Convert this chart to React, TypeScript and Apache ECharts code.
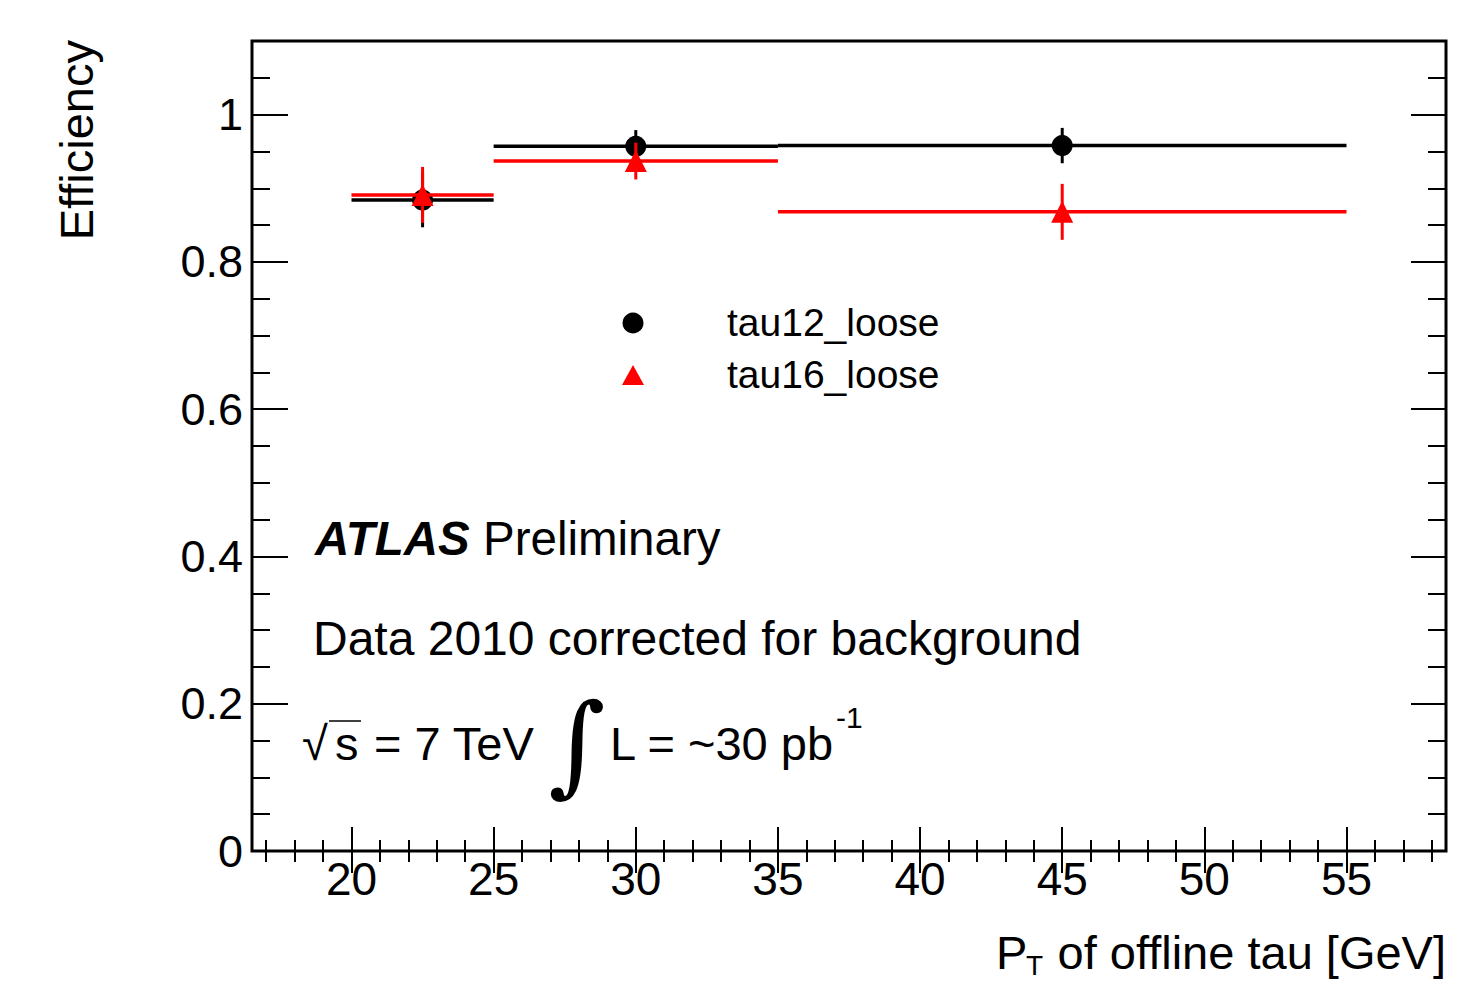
import React, { useEffect, useRef } from "react";
import * as echarts from "echarts";

// ---- data ----
const binLow = [20, 25, 35];
const binHigh = [25, 35, 55];
const binCenter = [22.5, 30, 45];
const tau12Eff = [0.884, 0.957, 0.958];
const tau12Err = [0.037, 0.022, 0.024];
const tau16Eff = [0.891, 0.937, 0.868];
const tau16Err = [0.038, 0.025, 0.038];
const seriesNames = ["tau12_loose", "tau16_loose"];

// ---- axis ticks ----
const xMajor = [20, 25, 30, 35, 40, 45, 50, 55];
const xMinor = [17, 18, 19, 21, 22, 23, 24, 26, 27, 28, 29, 31, 32, 33, 34, 36, 37, 38, 39, 41, 42, 43, 44, 46, 47, 48, 49, 51, 52, 53, 54, 56, 57, 58];
const yMajor = [0, 0.2, 0.4, 0.6, 0.8, 1];
const yMinor = [0.05, 0.1, 0.15, 0.25, 0.3, 0.35, 0.45, 0.5, 0.55, 0.65, 0.7, 0.75, 0.85, 0.9, 0.95, 1.05];

const FONT = "'Liberation Sans', Arial, Helvetica, sans-serif";

function makeX(pos: string, values: number[], len: number, labels: boolean) {
  return {
    type: "value",
    position: pos,
    min: 16.5,
    max: 58.5,
    axisLine: { show: false },
    splitLine: { show: false },
    axisTick: { show: true, inside: true, length: len, customValues: values, lineStyle: { color: "#000", width: 2 } },
    axisLabel: labels
      ? { show: true, customValues: values, fontSize: 46, color: "#000", fontFamily: FONT, margin: 5 }
      : { show: false },
  };
}
function makeY(pos: string, values: number[], len: number, labels: boolean) {
  return {
    type: "value",
    position: pos,
    min: 0,
    max: 1.1,
    axisLine: { show: false },
    splitLine: { show: false },
    axisTick: { show: true, inside: true, length: len, customValues: values, lineStyle: { color: "#000", width: 2 } },
    axisLabel: labels
      ? { show: true, customValues: values, fontSize: 45, color: "#000", fontFamily: FONT, margin: 9, formatter: (v: number) => String(+v.toFixed(2)) }
      : { show: false },
  };
}

function binRender(color: string) {
  return (params: any, api: any) => {
    const lo = api.value(0), hi = api.value(1), c = api.value(2), v = api.value(3), e = api.value(4);
    const p1 = api.coord([lo, v]);
    const p2 = api.coord([hi, v]);
    const b = api.coord([c, v - e]);
    const t = api.coord([c, v + e]);
    return {
      type: "group",
      children: [
        { type: "line", shape: { x1: p1[0], y1: p1[1], x2: p2[0], y2: p2[1] }, style: { stroke: color, lineWidth: 3.5 } },
        { type: "line", shape: { x1: b[0], y1: b[1], x2: t[0], y2: t[1] }, style: { stroke: color, lineWidth: 3 } },
      ],
    };
  };
}

export default function App() {
  const ref = useRef<HTMLDivElement>(null);
  useEffect(() => {
    if (!ref.current) return;
    const chart = echarts.init(ref.current, null, { renderer: "svg" });
    const rows12 = binLow.map((lo, i) => [lo, binHigh[i], binCenter[i], tau12Eff[i], tau12Err[i]]);
    const rows16 = binLow.map((lo, i) => [lo, binHigh[i], binCenter[i], tau16Eff[i], tau16Err[i]]);
    const txt = (text: string, x: number, y: number, size: number, extra: any = {}) => ({
      type: "text",
      x,
      y,
      style: { text, fontSize: size, fontFamily: FONT, fill: "#000", verticalAlign: "middle", align: "left", ...extra },
    });
    chart.setOption({
      animation: false,
      backgroundColor: "#fff",
      grid: { show: true, left: 252, top: 41, right: 35, bottom: 131, borderColor: "#000", borderWidth: 3, backgroundColor: "transparent" },
      xAxis: [makeX("bottom", xMajor, 24, true), makeX("bottom", xMinor, 11, false), makeX("top", xMajor, 22, false), makeX("top", xMinor, 11, false)],
      yAxis: [makeY("left", yMajor, 36, true), makeY("left", yMinor, 18, false), makeY("right", yMajor, 35, false), makeY("right", yMinor, 18, false)],
      series: [
        { type: "custom", name: seriesNames[0], xAxisIndex: 0, yAxisIndex: 0, renderItem: binRender("#000"), data: rows12, z: 2 },
        { type: "scatter", name: seriesNames[0], xAxisIndex: 0, yAxisIndex: 0, symbol: "circle", symbolSize: 21, itemStyle: { color: "#000", opacity: 1 }, data: binCenter.map((c, i) => [c, tau12Eff[i]]), z: 3 },
        { type: "custom", name: seriesNames[1], xAxisIndex: 0, yAxisIndex: 0, renderItem: binRender("#ff0000"), data: rows16, z: 4 },
        { type: "scatter", name: seriesNames[1], xAxisIndex: 0, yAxisIndex: 0, symbol: "triangle", symbolSize: 22, itemStyle: { color: "#ff0000", opacity: 1 }, data: binCenter.map((c, i) => [c, tau16Eff[i]]), z: 5 },
      ],
      graphic: [
        // legend
        { type: "circle", shape: { cx: 633, cy: 323, r: 10.5 }, style: { fill: "#000" } },
        { type: "polygon", shape: { points: [[622, 385], [644, 385], [633, 365]] }, style: { fill: "#ff0000" } },
        txt(seriesNames[0], 727, 322, 39),
        txt(seriesNames[1], 727, 374, 39),
        // annotations
        {
          type: "text",
          x: 315,
          y: 538,
          style: {
            text: "{a|ATLAS} Preliminary",
            fontSize: 47.5,
            fontFamily: FONT,
            fill: "#000",
            verticalAlign: "middle",
            rich: { a: { fontSize: 47.5, fontFamily: FONT, fontWeight: "bold", fontStyle: "italic", fill: "#000" } },
          },
        },
        txt("Data 2010 corrected for background", 313, 638, 48),
        txt("√", 302, 743, 47),
        txt("s", 335, 743, 47),
        { type: "line", shape: { x1: 329, y1: 721, x2: 361, y2: 721 }, style: { stroke: "#000", lineWidth: 1.5 } },
        txt("= 7 TeV", 374, 743, 47),
        { type: "text", x: 577, y: 744, style: { text: "∫", fontSize: 110, fontFamily: "'DejaVu Serif', serif", fontStyle: "italic", fill: "#000", align: "center", verticalAlign: "middle" } },
        txt("L = ~30 pb", 610, 743, 47),
        txt("-1", 836, 717, 30),
        // axis titles
        { type: "text", x: 76, y: 40, rotation: Math.PI / 2, style: { text: "Efficiency", fontSize: 47, fontFamily: FONT, fill: "#000", align: "right", verticalAlign: "middle" } },
        txt("P", 996, 952, 47),
        txt("T", 1026, 965, 28),
        txt("of offline tau [GeV]", 1446, 952, 47, { align: "right" }),
      ],
    });
    return () => chart.dispose();
  }, []);
  return <div ref={ref} style={{ position: "absolute", left: 0, top: 0, width: 1481, height: 982 }} />;
}
